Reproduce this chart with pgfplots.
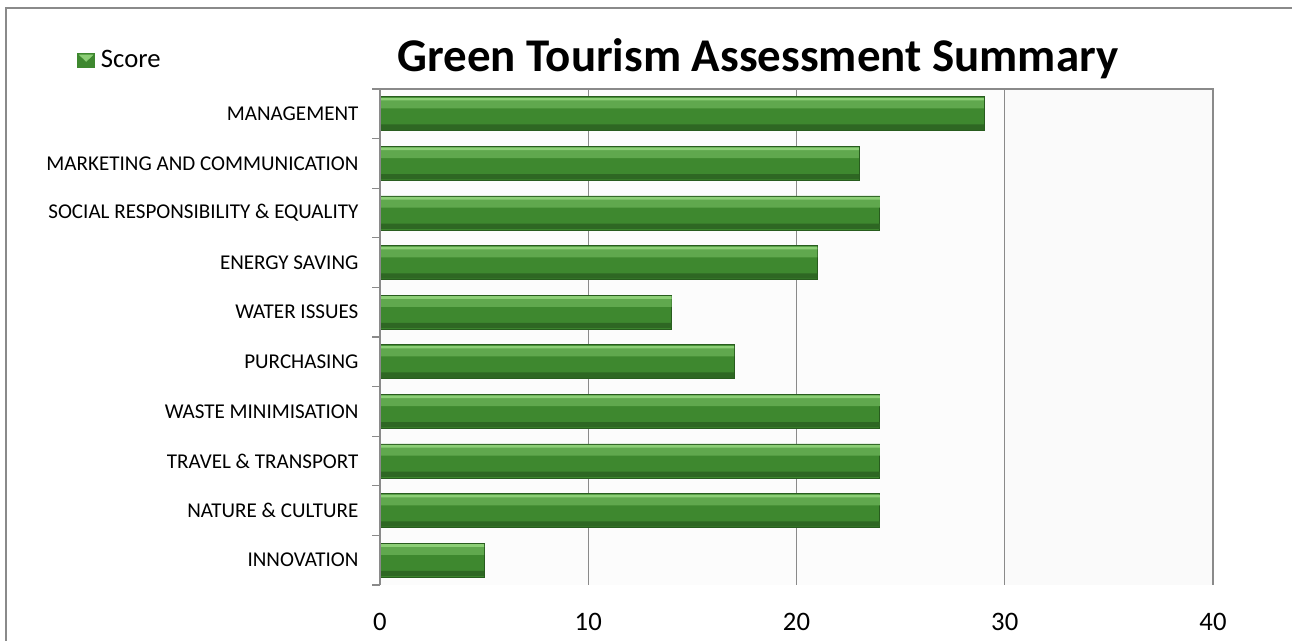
\documentclass[border=0pt]{standalone}
\usepackage{pgfplots}
\usepackage{pgfplotstable}
\pgfplotsset{compat=1.18}
\usepackage{fontspec}
\setmainfont{Carlito}
\definecolor{barTop}{RGB}{96,168,78}
\definecolor{barLight}{RGB}{140,206,118}
\definecolor{barMid}{RGB}{62,136,47}
\definecolor{barBot}{RGB}{46,103,35}
\definecolor{barEdge}{RGB}{40,92,30}
\definecolor{frameGray}{RGB}{138,138,138}
\pgfplotstableread{
y score
0 29
1 23
2 24
3 21
4 14
5 17
6 24
7 24
8 24
9 5
}\scoredata
\begin{document}
\begin{tikzpicture}
\draw[frameGray, line width=1.5pt] (4.5pt,0) -- (4.5pt,474.75pt) -- (969pt,474.75pt);
\node[anchor=base, font=\fontsize{35.2}{40}\selectfont\bfseries, inner sep=0pt] at (568.5pt,426.75pt) {Green Tourism Assessment Summary};
\begin{axis}[
  set layers,
  at={(285pt,42pt)}, anchor=south west,
  scale only axis,
  width=624.75pt, height=372pt,
  xmin=0, xmax=40,
  ymin=-0.5, ymax=9.5,
  y dir=reverse,
  xtick={0,10,20,30,40},
  ytick={0,...,9},
  yticklabels={MANAGEMENT, MARKETING AND COMMUNICATION, SOCIAL RESPONSIBILITY \& EQUALITY, ENERGY SAVING, WATER ISSUES, PURCHASING, WASTE MINIMISATION, TRAVEL \& TRANSPORT, NATURE \& CULTURE, INNOVATION},
  minor ytick={-0.5,0.5,...,9.5},
  ytick pos=left,
  xtick pos=bottom,
  major tick length=0pt,
  minor tick length=6pt,
  tick align=outside,
  every minor tick/.style={frameGray, line width=1pt},
  xmajorgrids,
  major x grid style={frameGray, line width=1pt},
  axis line style={draw=none},
  /pgf/number format/assume math mode=true,
  xticklabel style={font=\fontsize{20}{24}\selectfont, inner sep=0pt, anchor=north, yshift=-21pt},
  yticklabel style={font=\fontsize{15.8}{18}\selectfont, inner sep=0pt, anchor=east, xshift=-16pt},
  legend style={at={(axis description cs:-0.3637,1.0585)}, anchor=west, draw=none, fill=none, inner sep=0pt, font=\fontsize{20}{22}\selectfont, nodes={inner sep=0pt}},
  legend image code/.code={\fill[barMid] (0pt,-5.25pt) rectangle (12.75pt,5.25pt);\fill[barLight] (1.5pt,3.75pt) -- (11.25pt,3.75pt) -- (6.375pt,-1pt) -- cycle;},
  clip=false,
]
\begin{pgfonlayer}{axis background}
\fill[gray!4] (axis cs:30,-0.5) rectangle (axis cs:40,9.5);
\fill[white!98!gray] (axis cs:0,-0.5) rectangle (axis cs:30,9.5);
\end{pgfonlayer}
\addplot[xbar, bar width=25.5pt, draw=barEdge, line width=0.5pt, fill=barMid] table[x=score, y=y] {\scoredata};
\addlegendentry{\hspace{4.5pt}Score}
\addplot[xbar, forget plot, bar width=7pt, bar shift=7.5pt, draw=none, fill=barTop] table[x=score, y=y] {\scoredata};
\addplot[xbar, forget plot, bar width=2pt, bar shift=11pt, draw=none, fill=barLight] table[x=score, y=y] {\scoredata};
\addplot[xbar, forget plot, bar width=4pt, bar shift=-10pt, draw=none, fill=barBot] table[x=score, y=y] {\scoredata};
\draw[frameGray, line width=1.1pt] (rel axis cs:0,0) -- (rel axis cs:0,1) -- (rel axis cs:1,1) -- (rel axis cs:1,0);
\end{axis}
\pgfresetboundingbox
\useasboundingbox (0,0) rectangle (969.75pt,480.75pt);
\end{tikzpicture}
\end{document}
